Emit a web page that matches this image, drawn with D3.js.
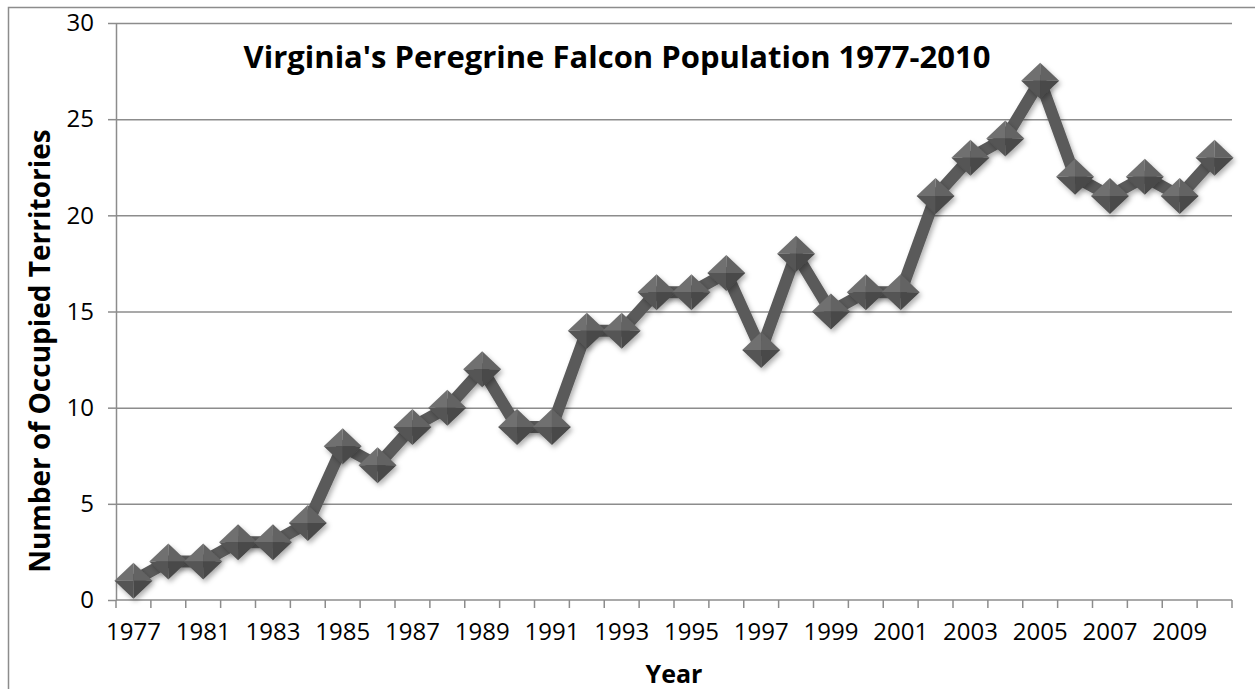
<!doctype html>
<html lang="en">
<head>
  <meta charset="utf-8">
  <title>Virginia's Peregrine Falcon Population 1977-2010</title>
  <script src="https://d3js.org/d3.v7.min.js"></script>
  <style>
    body { margin: 0; background: #fff; }
    .axis text { font-family: 'Open Sans', sans-serif; font-size: 24px; fill: #000; }
    .axis path, .axis line { stroke: #8c8c8c; stroke-width: 1.5; }
    .grid line { stroke: #8c8c8c; stroke-width: 1.5; }
    .grid path { display: none; }
  </style>
</head>
<body>
  <div id="chart"></div>
  <script>
    // occupied territories per year (one category for each survey year)
    var years = ['1977', '1979', '1981', '1982', '1983', '1984', '1985', '1986', '1987', '1988',
                 '1989', '1990', '1991', '1992', '1993', '1994', '1995', '1996', '1997', '1998',
                 '1999', '2000', '2001', '2002', '2003', '2004', '2005', '2006', '2007', '2008',
                 '2009', '2010'];
    var territories = [1, 2, 2, 3, 3, 4, 8, 7, 9, 10, 12, 9, 9, 14, 14, 16, 16, 17, 13, 18,
                       15, 16, 16, 21, 23, 24, 27, 22, 21, 22, 21, 23];
    var yTicks = [0, 5, 10, 15, 20, 25, 30];

    var width = 1255, height = 689;
    var plotLeft = 116, plotRight = 1232, plotTop = 23, plotBottom = 600;

    var svg = d3.select('#chart').append('svg')
        .attr('width', width)
        .attr('height', height);

    // outer chart frame (only left and top edges are in view)
    svg.append('path')
        .attr('d', 'M8.5,' + height + 'V7.5H' + width)
        .attr('fill', 'none')
        .attr('stroke', '#8c8c8c')
        .attr('stroke-width', 1.5);

    var x = d3.scaleBand().domain(years).range([plotLeft, plotRight]).paddingInner(0).paddingOuter(0);
    var y = d3.scaleLinear().domain([0, 30]).range([plotBottom, plotTop]);

    // horizontal gridlines
    svg.append('g')
        .attr('class', 'grid')
        .attr('transform', 'translate(' + plotLeft + ',0)')
        .call(d3.axisLeft(y).tickValues(yTicks.slice(1)).tickSize(-(plotRight - plotLeft)).tickFormat(''));

    // y axis
    svg.append('g')
        .attr('class', 'axis')
        .attr('transform', 'translate(' + plotLeft + ',0)')
        .call(d3.axisLeft(y).tickValues(yTicks).tickSize(8).tickSizeOuter(0).tickPadding(14));

    // x axis: labels every second category, tick marks on category boundaries
    var xAxis = svg.append('g')
        .attr('class', 'axis')
        .attr('transform', 'translate(0,' + plotBottom + ')')
        .call(d3.axisBottom(x)
          .tickValues(years.filter(function(d, i) { return i % 2 === 0; }))
          .tickSize(0).tickSizeOuter(0).tickPadding(23));
    xAxis.select('.domain').attr('d', 'M' + plotLeft + ',0H' + plotRight);
    xAxis.selectAll('.tickmark')
        .data(d3.range(years.length + 1))
        .enter().append('line')
        .attr('class', 'tickmark')
        .attr('x1', function(i) { return plotLeft + i * x.step(); })
        .attr('x2', function(i) { return plotLeft + i * x.step(); })
        .attr('y1', 0).attr('y2', 8);

    // shadow for line and markers
    var defs = svg.append('defs');
    var f = defs.append('filter').attr('id', 'shadow')
        .attr('x', '-50%').attr('y', '-50%').attr('width', '200%').attr('height', '200%');
    f.append('feDropShadow').attr('dx', 2).attr('dy', 3).attr('stdDeviation', 2.5)
        .attr('flood-color', '#000').attr('flood-opacity', 0.3);

    var cx = function(d, i) { return x(years[i]) + x.bandwidth() / 2; };

    var line = d3.line()
        .x(cx)
        .y(function(d) { return y(d); });

    svg.append('path')
        .datum(territories)
        .attr('d', line)
        .attr('fill', 'none')
        .attr('stroke', '#5a5a5a')
        .attr('stroke-width', 12)
        .attr('stroke-linejoin', 'round')
        .attr('filter', 'url(#shadow)');

    // diamond markers with four shaded facets
    var hw = 19, hh = 18;
    var facets = [
      {d: 'M0,0L' + (-hw) + ',0L0,' + (-hh) + 'Z', c: '#707070'},
      {d: 'M0,0L0,' + (-hh) + 'L' + hw + ',0Z', c: '#646464'},
      {d: 'M0,0L' + (-hw) + ',0L0,' + hh + 'Z', c: '#545454'},
      {d: 'M0,0L0,' + hh + 'L' + hw + ',0Z', c: '#484848'}
    ];

    var markers = svg.append('g').selectAll('g')
        .data(territories)
        .enter().append('g')
        .attr('transform', function(d, i) { return 'translate(' + cx(d, i) + ',' + y(d) + ')'; })
        .attr('filter', 'url(#shadow)');
    markers.selectAll('path')
        .data(facets)
        .enter().append('path')
        .attr('d', function(f) { return f.d; })
        .attr('fill', function(f) { return f.c; });

    // titles
    svg.append('text')
        .attr('x', 617).attr('y', 68)
        .attr('text-anchor', 'middle')
        .style('font-family', 'Open Sans, sans-serif')
        .style('font-weight', 'bold')
        .style('font-size', '31px')
        .text("Virginia's Peregrine Falcon Population 1977-2010");

    svg.append('text')
        .attr('transform', 'translate(50,351) rotate(-90)')
        .attr('text-anchor', 'middle')
        .style('font-family', 'Open Sans, sans-serif')
        .style('font-weight', 'bold')
        .style('font-size', '28px')
        .text('Number of Occupied Territories');

    svg.append('text')
        .attr('x', 674).attr('y', 683)
        .attr('text-anchor', 'middle')
        .style('font-family', 'Open Sans, sans-serif')
        .style('font-weight', 'bold')
        .style('font-size', '25px')
        .text('Year');
  </script>
</body>
</html>
